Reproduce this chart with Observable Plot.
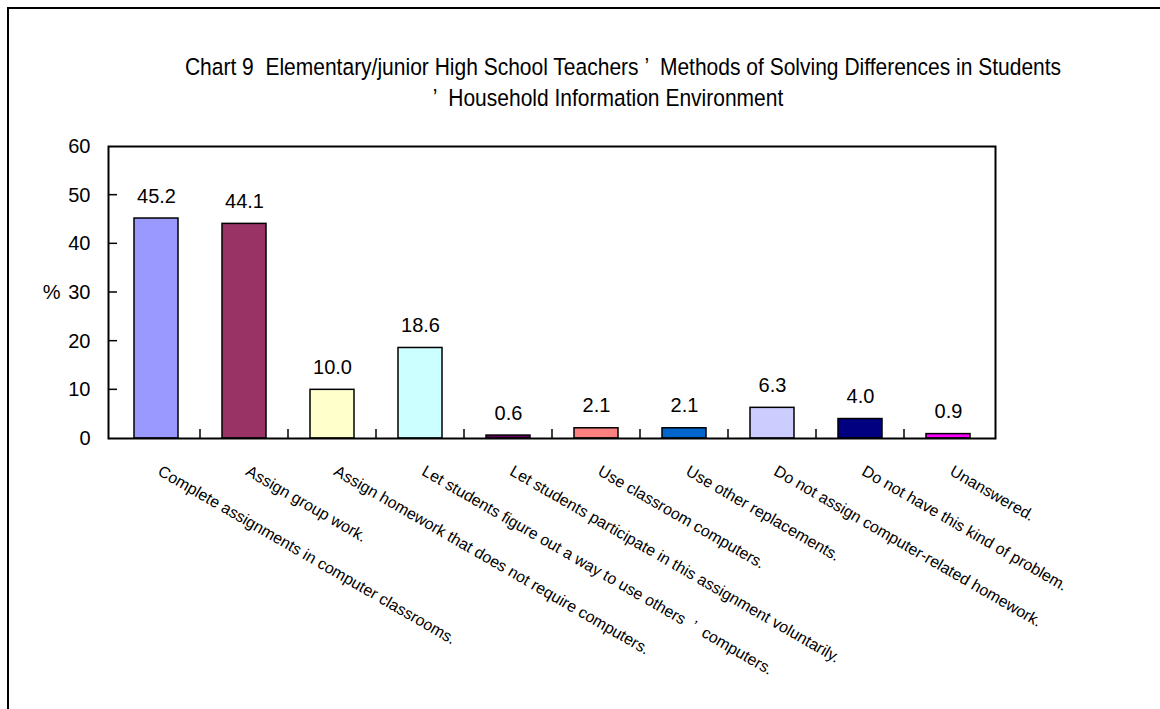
<!DOCTYPE html>
<html>
<head>
<meta charset="utf-8">
<script src="https://cdn.jsdelivr.net/npm/d3@7"></script>
<script src="https://cdn.jsdelivr.net/npm/@observablehq/plot@0.6"></script>
<style>
  body { margin: 0; background: #fff; font-family: "Liberation Sans", Arial, sans-serif; }
  #page { position: relative; width: 1160px; height: 709px; overflow: hidden; background: #fff; }
  #border { position: absolute; left: 7px; top: 7px; width: 1300px; height: 900px;
            border-left: 2px solid #000; border-top: 2px solid #000; }
  #title { position: absolute; left: 0; top: 0; width: 1160px; height: 130px; }
  .tline { position: absolute; width: 1000px; text-align: center; white-space: pre;
           font-size: 21px; line-height: 30px; color: #000;
           transform: scaleY(1.12); transform-origin: 50% 22px; }
  #chart { position: absolute; left: 0; top: 130px; }
</style>
</head>
<body>
<div id="page">
  <div id="border"></div>
  <div id="title">
    <div class="tline" style="left:123px; top:53px;">Chart 9  Elementary/junior High School Teachers ’  Methods of Solving Differences in Students</div>
    <div class="tline" style="left:108px; top:84px;">’  Household Information Environment</div>
  </div>
  <div id="chart"></div>
</div>
<script>
// Answer categories, in display order
const categories = [
  "Complete assignments in computer classrooms.",
  "Assign group work.",
  "Assign homework that does not require computers.",
  "Let students figure out a way to use others\u00a0\u00a0’\u00a0\u00a0computers.",
  "Let students participate in this assignment voluntarily.",
  "Use classroom computers.",
  "Use other replacements.",
  "Do not assign computer-related homework.",
  "Do not have this kind of problem.",
  "Unanswered."
];
// Share of teachers (%)
const values = [45.2, 44.1, 10.0, 18.6, 0.6, 2.1, 2.1, 6.3, 4.0, 0.9];
// Bar fills
const colors = ["#9999FF", "#993366", "#FFFFCC", "#CCFFFF", "#660066",
                "#FF8080", "#0066CC", "#CCCCFF", "#000080", "#FF00FF"];
// Y axis ticks
const yTicks = [0, 10, 20, 30, 40, 50, 60];

const data = categories.map((c, i) => ({category: c, value: values[i], color: colors[i]}));

const font = "'Liberation Sans', Arial, sans-serif";

const chart = Plot.plot({
  width: 1160,
  height: 579,
  marginTop: 16,
  marginLeft: 108,
  marginRight: 165,
  marginBottom: 271,
  style: {fontFamily: font, fontSize: "20px", color: "#000", background: "transparent", overflow: "visible"},
  x: {domain: categories, paddingInner: 0.5, paddingOuter: 0.25, axis: null},
  y: {domain: [0, 60], axis: null, label: null},
  color: {type: "identity"},
  marks: [
    Plot.barY(data, {x: "category", y: "value", fill: "color", stroke: "#000", strokeWidth: 1.5}),
    Plot.text(data, {x: "category", y: "value", text: d => d.value.toFixed(1),
                     lineAnchor: "bottom", dy: -16, fontSize: 20, fill: "#000"}),
    Plot.axisY(yTicks, {anchor: "left", tickSize: 0, tickPadding: 18, fontSize: 20, label: null, fill: "#000"}),
    Plot.text([30], {y: d => d, text: () => "%", frameAnchor: "left", textAnchor: "end",
                     dx: -48, fontSize: 20, fill: "#000"}),
    Plot.text(categories, {x: d => d, text: d => d, frameAnchor: "bottom", rotate: 30,
                           textAnchor: "start", lineAnchor: "top", dx: 6, dy: 26,
                           fontSize: 16, fill: "#000"}),
    Plot.frame({stroke: "#000", strokeWidth: 2})
  ]
});

// Inward tick marks: on the y axis at each tick value, on the x axis between categories
const xs = chart.scale("x");
const ys = chart.scale("y");
const gap = (xs.step - xs.bandwidth) / 2;
const x0 = 108, yBase = ys.apply(0);
const g = d3.select(chart).append("g").attr("stroke", "#000").attr("stroke-width", 1.5);
yTicks.slice(1, -1).forEach(v => {
  const y = ys.apply(v);
  g.append("line").attr("x1", x0).attr("x2", x0 + 9).attr("y1", y).attr("y2", y);
});
categories.slice(1).forEach(c => {
  const x = xs.apply(c) - gap;
  g.append("line").attr("x1", x).attr("x2", x).attr("y1", yBase).attr("y2", yBase - 9);
});

document.getElementById("chart").appendChild(chart);
</script>
</body>
</html>
